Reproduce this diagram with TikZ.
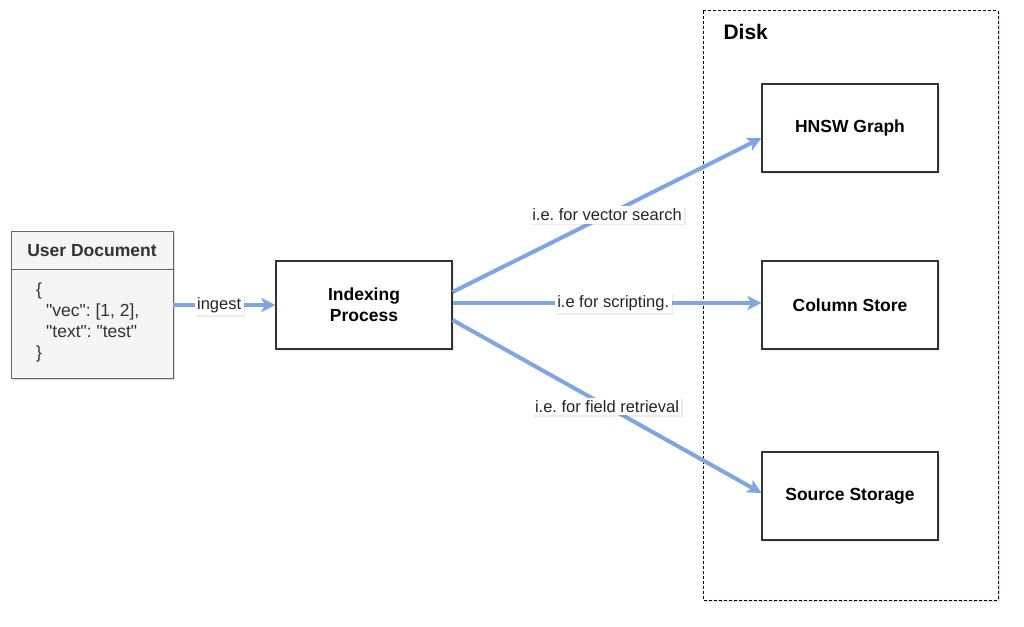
\documentclass[tikz,border=0pt]{standalone}
\usepackage{fontspec}
\setmainfont{Liberation Sans}
\newfontfamily\docfont[Ligatures=TeXOff]{Liberation Sans}
\usetikzlibrary{arrows.meta,shadows,positioning}
\definecolor{arrblue}{HTML}{7EA6E0}
\definecolor{docgray}{HTML}{F5F5F5}
\definecolor{docline}{HTML}{666666}
\definecolor{doctext}{HTML}{333333}
\frenchspacing
\tikzset{
  box/.style={draw=black!80, line width=1.1pt, fill=white, minimum width=176pt, minimum height=88pt, align=center, font=\fontsize{17.5}{21}\selectfont\bfseries,
    drop shadow={opacity=0.15, shadow xshift=2pt, shadow yshift=-2pt}},
  flow/.style={draw=arrblue, line width=4pt, -{Stealth[length=14pt,width=14pt,inset=3.5pt]}},
  lbl/.style={fill=white, font=\fontsize{16.5}{19}\selectfont, text=black!85, inner sep=2.5pt,
    drop shadow={opacity=0.15, shadow xshift=1.5pt, shadow yshift=-1.5pt}},
}
\begin{document}
\begin{tikzpicture}[x=1pt,y=-1pt]
\useasboundingbox (0,0) rectangle (1024,626);
\fill[white] (0,0) rectangle (1024,626);
% Disk container
\fill[black!60!blue, opacity=0.12] (705,13) rectangle (1000,602);
\draw[fill=white, line width=1pt, dash pattern=on 3pt off 2pt] (703,11) rectangle (998,600);
\node[anchor=west, font=\fontsize{21}{24}\selectfont\bfseries] (disk) at (720,32) {Disk};
% boxes
\node[box] (hnsw) at (850,128) {HNSW Graph};
\node[box] (col) at (850,305) {Column Store};
\node[box] (src) at (850,496) {Source Storage};
\node[box] (idx) at (364,305) {Indexing\\Process};
% user document
\fill[black, opacity=0.15] (13,233) rectangle (175,380);
\draw[draw=docline, line width=1pt, fill=docgray] (11,231) rectangle (173,378);
\draw[draw=docline, line width=1pt] (11,269) -- (173,269);
\node[font=\fontsize{17.5}{21}\selectfont\bfseries, text=doctext] (udh) at (92,251) {User Document};
\node[anchor=north west, align=left, font=\docfont\fontsize{17.5}{21}\selectfont, text=doctext, inner sep=0pt] (udb) at (36,283) {\{\\\hspace{10pt}"vec": [1, 2],\\\hspace{10pt}"text": "test"\\\}};
\coordinate (udr) at (173,305);
% arrows
\draw[flow] (udr) -- (idx.west) node[pos=0.45, lbl] {ingest};
\draw[flow] ([yshift=13pt]idx.east) -- ([yshift=-10pt]hnsw.west) node[pos=0.5, lbl] {i.e. for vector search};
\draw[flow] ([yshift=2pt]idx.east) -- ([yshift=2pt]col.west) node[pos=0.52, lbl] {i.e for scripting.};
\draw[flow] ([yshift=-15pt]idx.east) -- ([yshift=3pt]src.west) node[pos=0.5, lbl] {i.e. for field retrieval};
\end{tikzpicture}
\end{document}
